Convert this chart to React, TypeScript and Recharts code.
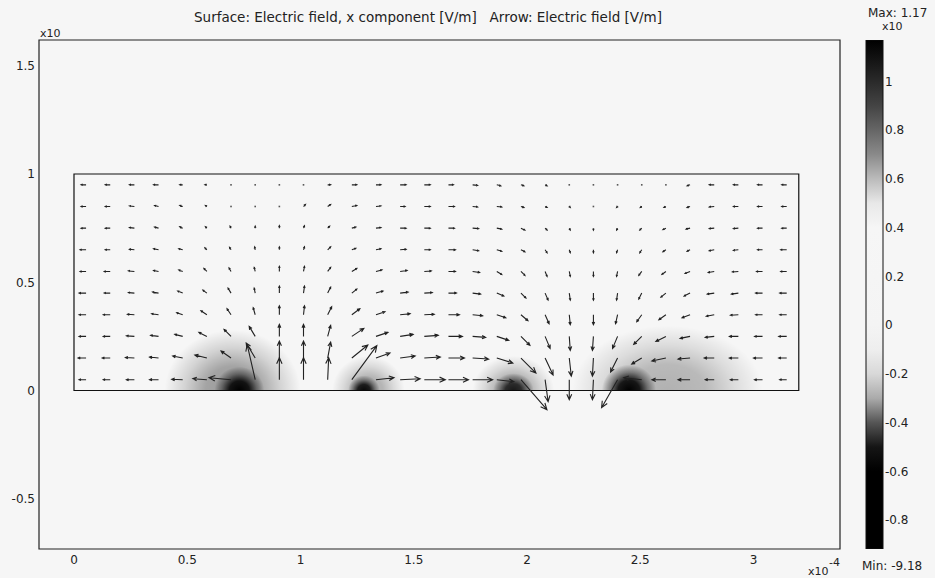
import React from 'react';
import { ScatterChart, Scatter, XAxis, YAxis, ReferenceArea, ComposedChart, Bar } from 'recharts';

// ---------- axes (units of 1e-4 m) ----------
const xTicks = [0, 0.5, 1, 1.5, 2, 2.5, 3];
const yTicks = [-0.5, 0, 0.5, 1, 1.5];
const X_DOMAIN: [number, number] = [-0.1545, 3.382];
const Y_DOMAIN: [number, number] = [-0.732, 1.619];
const domainBox = { x0: 0, x1: 3.2, y0: 0, y1: 1 };

// ---------- arrow grid ----------
const arrowCols = [0.0533, 0.16, 0.2667, 0.3733, 0.48, 0.5867, 0.6933, 0.8, 0.9067, 1.0133, 1.12, 1.2267, 1.3333, 1.44, 1.5467, 1.6533, 1.76, 1.8667, 1.9733, 2.08, 2.1867, 2.2933, 2.4, 2.5067, 2.6133, 2.72, 2.8267, 2.9333, 3.04, 3.1467];
const arrowRows = [0.05, 0.15, 0.25, 0.35, 0.45, 0.55, 0.65, 0.75, 0.85, 0.95];

// relative electric field components (arbitrary arrow units), bottom row first
const ex0 = [-7, -7, -8, -9, -11, -14, -22, -8, 0, 0, 1, 25, 18, 20, 21, 20, 20, 17, 26, 3, 0, -1, -16, -18, -14, -12, -9, -8, -8, -7];
const ey0 = [0, 0, 0, 0, 0.5, 1, 2, 35, 22, 22, 22, 34, 2, 1, 0, 0, 0, -2, -30, -22, -20, -20, -28, 2, 0, 0, 0, 0, 0, 0];
const ex1 = [-8, -8, -9, -9, -10, -12, -10, -9, 0, 0, 3, 16, 14, 15, 16, 16, 16, 16, 15, 8, 2, -1, -7, -10, -14, -12, -10, -9, -9, -8];
const ey1 = [0, 0, 0.5, 1, 2, 3, 7, 15, 17, 17, 16, 13, 5, 2, 1, 0, -1, -5, -15, -17, -18, -18, -14, -6, -3, -1, 0, 0, 0, 0];
const ex2 = [-7, -7, -8, -8, -8, -8, -7, -6, 0, 0, 3, 12, 12, 13, 14, 14, 13, 12, 9, 5, 1, -1, -5, -8, -10, -10, -9, -9, -8, -8];
const ey2 = [0, 0, 0.5, 1, 2, 4, 7, 10, 12, 12, 11, 8, 4, 2, 1, 0, -1, -4, -9, -12, -14, -14, -12, -8, -5, -2, -1, 0, 0, 0];
const ex3 = [-7, -7, -7, -7, -6, -6, -4, -2, 0, 1, 4, 8, 9, 10, 10, 11, 10, 9, 7, 4, 1, 0, -2, -5, -7, -8, -8, -8, -7, -7];
const ey3 = [0, 0, 0.5, 1, 2, 4, 6, 7, 9, 9, 8, 6, 3, 1, 0.5, 0, -1, -3, -6, -9, -10, -10, -9, -7, -5, -3, -1.5, -0.5, 0, 0];
const ex4 = [-7, -6, -6, -6, -5, -4, -3, -1, 0, 1, 3, 5, 7, 8, 8, 8, 8, 7, 5, 3, 1, 0, -1, -3, -5, -6, -7, -7, -7, -7];
const ey4 = [0, 0, 0.5, 1, 2, 3, 5, 5, 7, 7, 6, 4, 2, 1, 0.5, 0, -1, -3, -5, -7, -7, -7, -7, -6, -4, -3, -1, -1, 0, 0];
const ex5 = [-6, -6, -6, -5, -4, -3, -2, -1, 0, 1, 3, 5, 6, 7, 7, 7, 7, 5, 4, 2, 1, 0, -1, -3, -4, -5, -6, -6, -6, -6];
const ey5 = [0, 0, 0.5, 1, 1.5, 3, 3.5, 4, 5, 5, 4, 3, 1.5, 1, 0.5, 0, -1, -3, -4, -5, -5, -5, -5, -4, -3, -2, -1, -0.5, 0, 0];
const ex6 = [-6, -5, -5, -5, -4, -2, -1.5, -0.5, 0, 1, 3, 4, 5, 6, 6, 7, 6, 5, 4, 2, 1, 0, -1, -2, -3, -3, -5, -5, -5, -6];
const ey6 = [0, 0, 0.5, 1, 1, 2, 2.5, 3, 3, 3, 3, 1.5, 1, 0.5, 0, 0, -1, -1.5, -2, -3, -3, -3, -3, -3, -2, -1.5, -1, -0.5, 0, 0];
const ex7 = [-5, -5, -5, -4, -3, -1.5, -1, 0, 0, 1, 2, 4, 5, 6, 6, 6, 6, 5, 4, 2, 1, 0, -1, -2, -3, -4, -5, -5, -5, -5];
const ey7 = [0, 0, 0.5, 1, 1.5, 1.5, 2, 2, 2.5, 2.5, 2, 1, 0.5, 0, 0, 0, -0.5, -1, -2, -2, -2, -2, -2, -2, -1.5, -1, -0.5, -0.5, 0, 0];
const ex8 = [-5, -5, -5, -4, -3, -1.5, -0.5, 0, 0, 2, 3, 5, 5, 5, 6, 6, 5, 5, 3, 2, 1, 0, -1, -1.5, -2, -3, -5, -5, -5, -5];
const ey8 = [0, 0, 0.5, 1, 1, 1, 0.5, 0.5, 0.5, 2, 2, 1, 0.5, 0, 0, 0, -0.5, -0.5, -1, -1, -1, -1, -1, -1, -1, -1, -0.5, 0, 0, 0];
const ex9 = [-5, -5, -5, -5, -3, -2, -1, 0, 0, 1, 3, 5, 5, 6, 6, 5, 5, 4, 3, 2, 0.5, 0, 0, -0.5, -1, -3, -5, -5, -5, -5];
const ey9 = [0, 0, 0, 0, 0, 0, 0.5, 0.5, 0.5, 0.5, 0, 0, 0, 0, 0, 0, -0.5, -1, -1, -1, -0.5, -0.5, -0.5, -0.5, -0.5, -1, 0, 0, 0, 0];
const exRows = [ex0, ex1, ex2, ex3, ex4, ex5, ex6, ex7, ex8, ex9];
const eyRows = [ey0, ey1, ey2, ey3, ey4, ey5, ey6, ey7, ey8, ey9];

// ---------- surface hot spots (|Ex| peaks at electrode edges, y = 0) ----------
const spotX = [0.70, 0.73, 1.30, 1.28, 1.94, 1.94, 2.62, 2.45];
const spotRx = [0.30, 0.11, 0.16, 0.07, 0.18, 0.09, 0.42, 0.12];
const spotRy = [0.28, 0.11, 0.16, 0.07, 0.16, 0.08, 0.30, 0.12];
const spotDark = [0.38, 1.0, 0.3, 0.95, 0.32, 0.85, 0.28, 1.0];

// ---------- colour bar ----------
const colorTicks = [1, 0.8, 0.6, 0.4, 0.2, 0, -0.2, -0.4, -0.6, -0.8];
const colorMax = 1.17;
const colorMin = -0.918;
const colorStopValues = [1.17, 1.1, 1.0, 0.9, 0.8, 0.7, 0.6, 0.5, 0.4, 0.0, -0.1, -0.2, -0.3, -0.4, -0.5, -0.6, -0.918];
const colorStopGray = ['#000', '#111', '#2a2a2a', '#444', '#666', '#8a8a8a', '#bbb', '#e8e8e8', '#f6f6f6', '#f4f4f4', '#eee', '#d8d8d8', '#aaa', '#555', '#151515', '#000', '#000'];

const title = 'Surface: Electric field, x component [V/m]   Arrow: Electric field [V/m]';

// ---------- layout ----------
const W = 935;
const H = 578;
const M = { top: 40, right: 95, left: 0, bottom: 0 };
const Y_AXIS_W = 39;
const X_AXIS_H = 29;
const PLOT_W = W - M.left - M.right - Y_AXIS_W;
const PLOT_H = H - M.top - M.bottom - X_AXIS_H;
const PX_PER_X = PLOT_W / (X_DOMAIN[1] - X_DOMAIN[0]);
const PX_PER_Y = PLOT_H / (Y_DOMAIN[1] - Y_DOMAIN[0]);
const ARROW_PX = 1;
const FONT = 'DejaVu Sans, Verdana, sans-serif';

const arrowData: { x: number; y: number; ex: number; ey: number }[] = [];
arrowRows.forEach((y, j) => {
  arrowCols.forEach((x, i) => {
    arrowData.push({ x, y, ex: exRows[j][i], ey: eyRows[j][i] });
  });
});

const spotData = spotX.map((x, i) => ({ x, y: 0, rx: spotRx[i], ry: spotRy[i], dark: spotDark[i], id: i }));

const ArrowShape = (props: any) => {
  const { cx, cy, payload } = props;
  if (cx == null || cy == null) return null;
  const dx = payload.ex * ARROW_PX;
  const dy = -payload.ey * ARROW_PX;
  const len = Math.hypot(dx, dy);
  if (len < 1.2) {
    return <rect x={cx - 0.8} y={cy - 0.8} width={1.6} height={1.6} fill="#555" />;
  }
  const tx = cx + dx;
  const ty = cy + dy;
  const bx = -dx / len;
  const by = -dy / len;
  const h = Math.min(7, Math.max(1.8, 0.3 * len));
  const a = 0.42;
  const c = Math.cos(a);
  const s = Math.sin(a);
  const l1x = tx + h * (bx * c - by * s);
  const l1y = ty + h * (bx * s + by * c);
  const l2x = tx + h * (bx * c + by * s);
  const l2y = ty + h * (-bx * s + by * c);
  return (
    <path
      d={`M${cx},${cy}L${tx},${ty}M${l1x},${l1y}L${tx},${ty}L${l2x},${l2y}`}
      stroke="#222"
      strokeWidth={1.1}
      fill="none"
    />
  );
};

const SpotShape = (props: any) => {
  const { cx, cy, payload } = props;
  if (cx == null || cy == null) return null;
  const rx = payload.rx * PX_PER_X;
  const ry = payload.ry * PX_PER_Y;
  const d = payload.dark;
  const id = `spot-grad-${payload.id}`;
  return (
    <g>
      <defs>
        <radialGradient
          id={id}
          gradientUnits="userSpaceOnUse"
          cx={cx}
          cy={cy}
          r={rx}
          gradientTransform={`translate(${cx} ${cy}) scale(1 ${ry / rx}) translate(${-cx} ${-cy})`}
        >
          <stop offset="0" stopColor="#000" stopOpacity={d} />
          <stop offset="0.4" stopColor="#000" stopOpacity={d * 0.88} />
          <stop offset="0.7" stopColor="#000" stopOpacity={d * 0.38} />
          <stop offset="1" stopColor="#000" stopOpacity={0} />
        </radialGradient>
      </defs>
      <path d={`M${cx - rx},${cy} A${rx},${ry} 0 0 1 ${cx + rx},${cy} Z`} fill={`url(#${id})`} />
    </g>
  );
};

const cbData = [{ name: 'Ex', range: [colorMin, colorMax] }];

export default function App() {
  const tickStyle = { fontSize: 12, fill: '#222', fontFamily: FONT };
  return (
    <div style={{ position: 'absolute', left: 0, top: 0, width: W, height: H, background: '#f6f6f6', overflow: 'hidden' }}>
      <svg width={0} height={0} style={{ position: 'absolute' }}>
        <defs>
          <linearGradient id="cbGrad" x1="0" y1="0" x2="0" y2="1">
            {colorStopValues.map((v, i) => (
              <stop key={i} offset={(colorMax - v) / (colorMax - colorMin)} stopColor={colorStopGray[i]} />
            ))}
          </linearGradient>
        </defs>
      </svg>
      <div style={{ position: 'absolute', left: 0, top: 0 }}>
        <ScatterChart width={W} height={H} margin={M}>
          <XAxis
            type="number"
            dataKey="x"
            domain={X_DOMAIN}
            allowDataOverflow
            ticks={xTicks}
            interval={0}
            height={X_AXIS_H}
            axisLine={false}
            tickLine={false}
            tickSize={0}
            tickMargin={6}
            tick={tickStyle}
          />
          <YAxis
            type="number"
            dataKey="y"
            domain={Y_DOMAIN}
            allowDataOverflow
            ticks={yTicks}
            interval={0}
            width={Y_AXIS_W}
            axisLine={false}
            tickLine={false}
            tickSize={0}
            tickMargin={4}
            tick={tickStyle}
          />
          <Scatter data={spotData} shape={SpotShape} isAnimationActive={false} />
          <ReferenceArea
            x1={domainBox.x0}
            x2={domainBox.x1}
            y1={domainBox.y0}
            y2={domainBox.y1}
            fill="none"
            stroke="#111"
            strokeWidth={1.2}
            ifOverflow="visible"
          />
          <Scatter data={arrowData} shape={ArrowShape} isAnimationActive={false} />
          <ReferenceArea
            x1={X_DOMAIN[0]}
            x2={X_DOMAIN[1]}
            y1={Y_DOMAIN[0]}
            y2={Y_DOMAIN[1]}
            fill="none"
            stroke="#222"
            strokeWidth={1.2}
            ifOverflow="visible"
          />
        </ScatterChart>
      </div>
      <div style={{ position: 'absolute', left: 862, top: 0 }}>
        <ComposedChart width={73} height={H} data={cbData} margin={{ top: 40, right: 0, bottom: 29, left: 4 }} barCategoryGap={0}>
          <XAxis dataKey="name" type="category" hide />
          <YAxis
            orientation="right"
            type="number"
            domain={[colorMin, colorMax]}
            allowDataOverflow
            ticks={colorTicks}
            interval={0}
            width={52}
            axisLine={false}
            tickLine={false}
            tickSize={0}
            tickMargin={2}
            tick={{ ...tickStyle, textAnchor: 'start' }}
          />
          <Bar dataKey="range" fill="url(#cbGrad)" stroke="#111" strokeWidth={1} isAnimationActive={false} />
        </ComposedChart>
      </div>
      <svg width={W} height={H} style={{ position: 'absolute', left: 0, top: 0, pointerEvents: 'none' }}>
        <text x={428} y={22} textAnchor="middle" fontSize={13.5} fontFamily={FONT} fill="#222" style={{ whiteSpace: 'pre' }}>
          {title}
        </text>
        <text x={40} y={37} fontSize={11} fontFamily={FONT} fill="#222">x10</text>
        <text x={808} y={575} fontSize={11} fontFamily={FONT} fill="#222">x10</text>
        <text x={829} y={566} fontSize={11} fontFamily={FONT} fill="#222">-4</text>
        <text x={868} y={17} fontSize={12} fontFamily={FONT} fill="#222">Max: 1.17</text>
        <text x={882} y={30} fontSize={11} fontFamily={FONT} fill="#222">x10</text>
        <text x={862} y={570} fontSize={12} fontFamily={FONT} fill="#222">Min: -9.18</text>
      </svg>
    </div>
  );
}
